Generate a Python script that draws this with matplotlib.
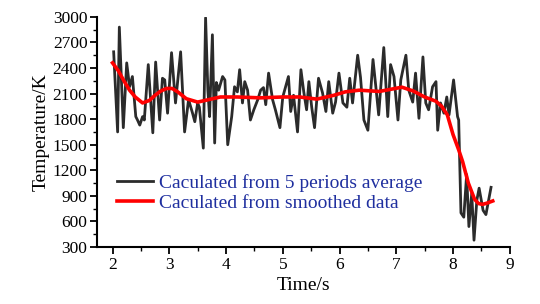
import numpy as np
from matplotlib import pyplot as plt
from matplotlib.ticker import MultipleLocator

# black noisy series: calculated from 5 periods average
t_avg = [2.02, 2.09, 2.12, 2.19, 2.25, 2.30, 2.35, 2.41, 2.44, 2.48, 2.53, 2.56, 2.63, 2.71, 2.76,
         2.83, 2.88, 2.92, 2.97, 3.04, 3.11, 3.20, 3.27, 3.34, 3.41, 3.45, 3.50, 3.53, 3.60, 3.64,
         3.68, 3.71, 3.76, 3.80, 3.83, 3.87, 3.94, 3.98, 4.03, 4.10, 4.15, 4.20, 4.24, 4.29, 4.33,
         4.38, 4.43, 4.49, 4.56, 4.61, 4.66, 4.70, 4.75, 4.82, 4.87, 4.95, 5.00, 5.10, 5.14, 5.19,
         5.26, 5.32, 5.37, 5.42, 5.46, 5.51, 5.56, 5.63, 5.70, 5.76, 5.81, 5.88, 5.93, 5.99, 6.06,
         6.13, 6.18, 6.23, 6.32, 6.37, 6.43, 6.50, 6.59, 6.64, 6.69, 6.78, 6.85, 6.90, 6.96, 7.03,
         7.08, 7.17, 7.22, 7.29, 7.34, 7.40, 7.47, 7.52, 7.57, 7.64, 7.70, 7.73, 7.78, 7.84, 7.89,
         7.93, 8.01, 8.08, 8.10, 8.14, 8.19, 8.24, 8.28, 8.33, 8.37, 8.42, 8.46, 8.53, 8.58, 8.67]
T_avg = [2590, 1650, 2880, 1700, 2460, 2180, 2300, 1830, 1790, 1730, 1830, 1790, 2440, 1640, 2470,
         1790, 2280, 2260, 1870, 2580, 1990, 2590, 1650, 2030, 1870, 1770, 1990, 1940, 1460, 2990,
         2140, 1830, 2790, 1520, 2230, 2140, 2300, 2260, 1500, 1830, 2180, 2120, 2380, 1990, 2240,
         2140, 1790, 1910, 2030, 2140, 2170, 1970, 2340, 2030, 1910, 1700, 2060, 2300, 1890, 2080,
         1650, 2380, 2120, 1910, 2240, 1940, 1700, 2280, 2110, 1890, 2240, 1870, 2000, 2340, 1990,
         1940, 2280, 1990, 2550, 2290, 1790, 1670, 2500, 2180, 1850, 2640, 1830, 2440, 2300, 1790,
         2260, 2550, 2140, 2000, 2340, 1810, 2530, 1990, 1910, 2180, 2240, 1670, 1990, 1870, 2060,
         1850, 2260, 1830, 1790, 700, 650, 1150, 540, 930, 380, 850, 990, 730, 680, 1000]

# red smooth series: calculated from smoothed data
t_smooth = [2.00, 2.10, 2.20, 2.30, 2.40, 2.53, 2.65, 2.75, 2.85, 2.95, 3.05, 3.15, 3.30, 3.50,
            3.70, 3.90, 4.20, 4.60, 5.00, 5.30, 5.60, 5.90, 6.10, 6.35, 6.70, 6.90, 7.10, 7.30,
            7.50, 7.70, 7.80, 7.90, 8.00, 8.10, 8.17, 8.27, 8.38, 8.45, 8.52, 8.60, 8.70]
T_smooth = [2460, 2370, 2250, 2140, 2060, 1990, 2020, 2080, 2130, 2160, 2160, 2120, 2040, 2000,
            2030, 2060, 2060, 2050, 2060, 2060, 2035, 2080, 2120, 2140, 2125, 2150, 2175, 2130,
            2060, 2010, 1950, 1850, 1620, 1440, 1300, 1050, 860, 810, 800, 815, 840]

plt.rcParams['font.family'] = ['Liberation Serif', 'DejaVu Serif']

fig = plt.figure(figsize=(5.4, 3.04), dpi=100)
ax = fig.add_axes([0.18, 0.1875, 0.764, 0.757])

ax.plot(t_avg, T_avg, color='#2b2b2b', lw=2.0, label='Caculated from 5 periods average')
ax.plot(t_smooth, T_smooth, color='#ff0000', lw=2.6, label='Caculated from smoothed data')

ax.set_xlim(1.73, 9.0)
ax.set_ylim(300, 3000)
ax.xaxis.set_major_locator(MultipleLocator(1))
ax.xaxis.set_minor_locator(MultipleLocator(0.5))
ax.yaxis.set_major_locator(MultipleLocator(300))
ax.yaxis.set_minor_locator(MultipleLocator(150))
ax.spines['top'].set_visible(False)
ax.spines['right'].set_visible(False)
ax.spines['left'].set_linewidth(1.5)
ax.spines['bottom'].set_linewidth(1.5)
ax.tick_params(which='major', length=5, width=1.3, labelsize=12.5, pad=2)
ax.tick_params(which='minor', length=3, width=1.0)

ax.set_xlabel('Time/s', fontsize=14, labelpad=3)
ax.set_ylabel('Temperature/K', fontsize=14, labelpad=2)

leg = ax.legend(loc='upper left', bbox_to_anchor=(0.03, 0.35), frameon=False, fontsize=14,
                handlelength=1.85, handletextpad=0.3, labelspacing=0.1, borderaxespad=0)
for txt in leg.get_texts():
    txt.set_color('#1f2f9f')

fig.savefig('out.png', dpi=100)
